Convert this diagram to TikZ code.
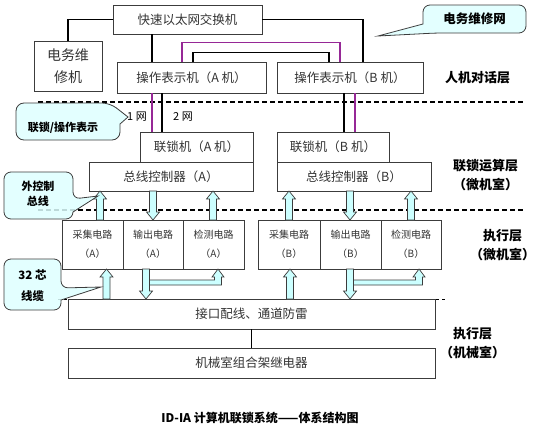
\documentclass[tikz,border=0pt]{standalone}
\usepackage{fontspec}
\setmainfont{Noto Sans CJK SC}
\definecolor{pur}{RGB}{150,40,150}
\definecolor{cy}{RGB}{204,255,255}
\definecolor{cyc}{RGB}{222,255,255}
\definecolor{edge}{RGB}{60,60,60}
\newcommand\arrV[3]{%
  \pgfmathsetmacro\arrdir{(#3>#2)?1:-1}%
  \filldraw[barrow] ({#1-3.5},#2) -- ({#1-3.5},{#3-\arrdir*8}) -- ({#1-6.5},{#3-\arrdir*8}) -- (#1,#3)
    -- ({#1+6.5},{#3-\arrdir*8}) -- ({#1+3.5},{#3-\arrdir*8}) -- ({#1+3.5},#2) -- cycle;}
\newcommand\bandArr[2]{%
  \filldraw[barrow] (#1,280) -- ({#2-3.5},280) -- ({#2-3.5},277) -- ({#2-6},277) -- (#2,269)
    -- ({#2+6},277) -- ({#2+3.5},277) -- ({#2+3.5},285) -- (#1,285) -- cycle;}
\begin{document}
\begin{tikzpicture}[x=1pt,y=-1pt,
  box/.style={draw=edge, line width=0.9pt, inner sep=0pt, text=black!80,
    font=\fontsize{12.5}{14}\selectfont},
  ebox/.style={box, minimum height=49, font=\fontsize{10}{19}\selectfont, align=center},
  conn/.style={line width=1.6pt},
  purline/.style={conn, draw=pur},
  layer/.style={font=\bfseries\fontsize{13}{19}\selectfont, align=center},
  ctext/.style={font=\bfseries\fontsize{11}{15}\selectfont, align=center},
  callout/.style={draw=edge, line width=0.8pt, fill=cyc, fill opacity=0.85},
  barrow/.style={draw=edge, line width=0.7pt, fill=cy},
  bigdash/.style={line width=2pt, dash pattern=on 5pt off 3pt},
  smalldash/.style={line width=0.9pt, dash pattern=on 3pt off 3pt}
]
\useasboundingbox (0,0) rectangle (550,434);

% dashed layer separators
\draw[bigdash] (38,102) -- (525,102);
\draw[bigdash] (38,210) -- (525,210);
\draw[smalldash] (58,299) -- (445,299);

% boxes
\node[box, minimum width=149, minimum height=29] (sw) at (187.5,19.5) {快速以太网交换机};
\node[box, minimum width=68, minimum height=50, align=center,
      font=\fontsize{14}{22}\selectfont] (dw) at (68,66) {电务维\\修机};
\node[box, minimum width=149, minimum height=31] (opA) at (191.5,77.5) {操作表示机（A 机）};
\node[box, minimum width=146, minimum height=31] (opB) at (350,77.5) {操作表示机（B 机）};
\node[box, minimum width=113, minimum height=30] (ilA) at (196.5,147) {联锁机（A 机）};
\node[box, minimum width=112, minimum height=30] (ilB) at (333,147) {联锁机（B 机）};
\node[box, minimum width=164, minimum height=29] (bcA) at (171,176.5) {总线控制器（A）};
\node[box, minimum width=154, minimum height=29] (bcB) at (354,176.5) {总线控制器（B）};

\node[ebox, minimum width=61] (caA) at (92.5,244.5) {采集电路\\（A）};
\node[ebox, minimum width=60] (ocA) at (153,244.5) {输出电路\\（A）};
\node[ebox, minimum width=61] (dcA) at (213.5,244.5) {检测电路\\（A）};
\node[ebox, minimum width=62] (caB) at (289,244.5) {采集电路\\（B）};
\node[ebox, minimum width=61] (ocB) at (350.5,244.5) {输出电路\\（B）};
\node[ebox, minimum width=60] (dcB) at (411,244.5) {检测电路\\（B）};

\node[box, minimum width=367, minimum height=30] (intf) at (251.5,314) {接口配线、通道防雷};
\node[box, minimum width=367, minimum height=30] (relay) at (251.5,363) {机械室组合架继电器};

% network connectors
\draw[conn] (sw.west) -| (dw.north);
\draw[conn] (sw.east) -| ([xshift=13]opB.north);
\draw[conn] ([xshift=-35.5]sw.south) -- ([xshift=-35.5]sw.south |- opA.north);
\draw[purline] ([xshift=-9.5]opA.north) -- ++(0,-19) -| ([xshift=-10]opB.north);
\draw[conn] ([xshift=1.5]opA.north) -- ++(0,-9) -| ([xshift=-21]opB.north);
\draw[purline] ([xshift=-39.5]opA.south) -- ([xshift=-39.5]opA.south |- ilA.north);
\draw[conn] ([xshift=-29.5]opA.south) -- ([xshift=-29.5]opA.south |- ilA.north);
\draw[conn] ([xshift=-6]opB.south) -- ([xshift=-6]opB.south |- ilB.north);
\draw[purline] ([xshift=5]opB.south) -- ([xshift=5]opB.south |- ilB.north);
\draw[line width=1pt] (intf.south) -- (relay.north);

\node[font=\fontsize{11}{13}\selectfont] (n1) at (137,117) {1 网};
\node[font=\fontsize{11}{13}\selectfont] (n2) at (183,117) {2 网};

% block arrows
\arrV{100}{220}{191}
\arrV{153}{191}{220}
\arrV{213}{220}{191}
\arrV{289}{220}{191}
\arrV{350}{191}{220}
\arrV{411}{220}{191}

\bandArr{146}{218}
\bandArr{350}{419}
\arrV{106.5}{299}{269}
\arrV{146}{269}{299}
\arrV{290}{299}{269}
\arrV{350}{269}{299}

% callouts
\draw[callout] (378,36) -- (423,24) [rounded corners=7] -- (423,5) -- (526,5) -- (526,33) -- (436,33) [sharp corners] -- cycle;
\node[ctext, font=\bfseries\fontsize{12.5}{15}\selectfont] (c1) at (474.5,19) {电务维修网};
\draw[callout] (128,117) -- (120,124) [rounded corners=8] -- (120,140) -- (16,140) -- (16,103) -- (110,103) [sharp corners] -- cycle;
\node[ctext] (c2) at (63,128) {联锁/操作表示};
\draw[callout] (98,196) -- (73,212) [rounded corners=7] -- (73,219) -- (4,219) -- (4,172) -- (73,172) -- (73,199) [sharp corners] -- cycle;
\node[ctext] (c3) at (38,194) {外控制\\总线};
\draw[callout] (101,287) -- (61,300) [rounded corners=7] -- (61,310) -- (4,310) -- (4,259) -- (61,259) -- (61,288) [sharp corners] -- cycle;
\node[ctext, font=\bfseries\fontsize{11.5}{21}\selectfont] (c4) at (32.5,285.5) {32 芯\\线缆};

% layer labels
\node[layer] (L1) at (477.5,78) {人机对话层};
\node[layer] (L2) at (485.5,175.5) {联锁运算层\\（微机室）};
\node[layer] (L3) at (502.5,245) {执行层\\（微机室）};
\node[layer] (L4) at (472.5,343) {执行层\\（机械室）};

\node[font=\bfseries\fontsize{12}{14}\selectfont] (cap) at (260,418) {ID-IA 计算机联锁系统——体系结构图};
\end{tikzpicture}
\end{document}
